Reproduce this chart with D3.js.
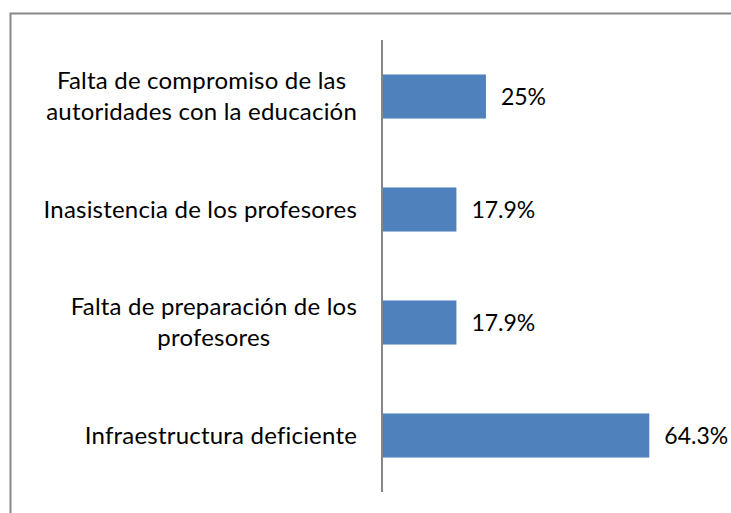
<!DOCTYPE html>
<html>
<head>
<meta charset="utf-8">
<script src="https://cdn.jsdelivr.net/npm/d3@7"></script>
<style>
  body { margin: 0; background: #fff; }
  svg { display: block; }
  .lbl { font-family: Lato, "Noto Sans", sans-serif; font-size: 24px; fill: #000;
         font-variant-ligatures: none; letter-spacing: 0.2px; }
  .val { font-size: 23px; letter-spacing: 0; }
</style>
</head>
<body>
<div id="chart"></div>
<script>
// categories, top to bottom, each split into display lines
var categories = [
    ['Falta de compromiso de las', 'autoridades con la educación'],
    ['Inasistencia de los profesores'],
    ['Falta de preparación de los', 'profesores'],
    ['Infraestructura deficiente']
];
var values = [25, 17.9, 17.9, 64.3];
var valueLabels = ['25%', '17.9%', '17.9%', '64.3%'];

var W = 731, H = 513;
var margin = { top: 40, right: 58, bottom: 21, left: 382 };

var svg = d3.select('#chart').append('svg')
    .attr('width', W).attr('height', H);

// outer frame (right and bottom run off the picture)
svg.append('rect')
    .attr('x', 10.5).attr('y', 13.5)
    .attr('width', W + 20).attr('height', H + 20)
    .attr('fill', 'none')
    .attr('stroke', '#888')
    .attr('stroke-width', 2);

var keys = d3.range(values.length);
var y = d3.scaleBand().domain(keys)
    .range([margin.top, H - margin.bottom])
    .paddingInner(0.61).paddingOuter(0.305);
var x = d3.scaleLinear().domain([0, 70]).range([margin.left, margin.left + 291]);

var g = svg.append('g');

g.selectAll('.bar').data(keys).enter().append('rect')
    .attr('class', 'bar')
    .attr('x', x(0))
    .attr('y', function(i){ return y(i); })
    .attr('width', function(i){ return x(values[i]) - x(0); })
    .attr('height', y.bandwidth())
    .attr('fill', '#4f81bd');

// value labels
g.selectAll('.val').data(keys).enter().append('text')
    .attr('class', 'lbl val')
    .attr('x', function(i){ return x(values[i]) + 15; })
    .attr('y', function(i){ return y(i) + y.bandwidth() / 2; })
    .attr('dy', '0.35em')
    .text(function(i){ return valueLabels[i]; });

// category labels: block right aligned, lines centered within block
var lineH = 31;
var catG = g.selectAll('.cat').data(keys).enter().append('g').attr('class', 'cat');
catG.each(function(i){
    var lines = categories[i];
    var el = d3.select(this);
    var cy = y(i) + y.bandwidth() / 2;
    var t = el.append('text').attr('class', 'lbl').attr('text-anchor', 'middle');
    lines.forEach(function(s, k){
        t.append('tspan').attr('x', 0)
            .attr('y', cy + (k - (lines.length - 1) / 2) * lineH)
            .attr('dy', '0.35em').text(s);
    });
    var bw = t.node().getBBox().width;
    t.attr('transform', 'translate(' + (margin.left - 25 - bw / 2) + ',0)');
});

// category axis line
svg.append('line')
    .attr('x1', x(0)).attr('x2', x(0))
    .attr('y1', margin.top).attr('y2', H - margin.bottom)
    .attr('stroke', '#868686').attr('stroke-width', 2);
</script>
</body>
</html>
